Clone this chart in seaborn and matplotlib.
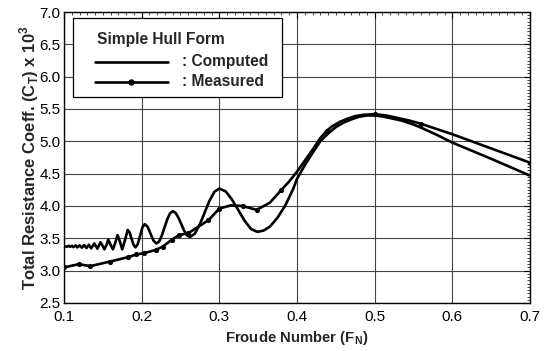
import matplotlib
matplotlib.use("Agg")
import matplotlib.pyplot as plt
from matplotlib.lines import Line2D
from matplotlib.patches import Rectangle
from matplotlib.ticker import MultipleLocator, FormatStrFormatter
import seaborn as sns
import pandas as pd

# ---- data ----
computed_fn = [0.100, 0.104, 0.106, 0.108, 0.110, 0.112, 0.115, 0.117, 0.120, 0.123,
               0.126, 0.129, 0.132, 0.135, 0.139, 0.143, 0.147, 0.1495, 0.152, 0.1545,
               0.157, 0.160, 0.163, 0.166, 0.169, 0.172, 0.175, 0.1785, 0.182, 0.1845,
               0.187, 0.1895, 0.192, 0.195, 0.198, 0.201, 0.204, 0.2078, 0.2115, 0.2153,
               0.219, 0.2225, 0.226, 0.2295, 0.233, 0.2365, 0.240, 0.2437, 0.2473, 0.251,
               0.2547, 0.2583, 0.262, 0.2683, 0.2747, 0.281, 0.2873, 0.2937, 0.300, 0.3082,
               0.3163, 0.3245, 0.3327, 0.3408, 0.349, 0.357, 0.365, 0.375, 0.385, 0.395,
               0.400, 0.410, 0.420, 0.430, 0.440, 0.450, 0.460, 0.470, 0.480, 0.490,
               0.500, 0.510, 0.520, 0.535, 0.550, 0.560, 0.580, 0.600, 0.650, 0.700]
computed_ct = [3.38, 3.37, 3.385, 3.37, 3.385, 3.365, 3.39, 3.36, 3.39, 3.355,
               3.395, 3.35, 3.40, 3.345, 3.42, 3.34, 3.44, 3.39, 3.33, 3.39,
               3.48, 3.40, 3.33, 3.43, 3.55, 3.45, 3.33, 3.47, 3.63, 3.59,
               3.495, 3.40, 3.36, 3.41, 3.54, 3.67, 3.72, 3.676, 3.57, 3.464,
               3.42, 3.45, 3.545, 3.67, 3.795, 3.885, 3.92, 3.893, 3.82, 3.72,
               3.62, 3.547, 3.52, 3.57, 3.71, 3.895, 4.08, 4.22, 4.27, 4.225,
               4.10, 3.935, 3.77, 3.645, 3.60, 3.62, 3.68, 3.82, 4.01, 4.26,
               4.42, 4.63, 4.82, 5.00, 5.12, 5.22, 5.29, 5.34, 5.38, 5.40,
               5.40, 5.385, 5.36, 5.32, 5.26, 5.21, 5.10, 4.98, 4.73, 4.47]

measured_fn = [0.100, 0.119, 0.134, 0.159, 0.183, 0.193, 0.203, 0.218, 0.227, 0.239,
               0.248, 0.260, 0.286, 0.300, 0.315, 0.330, 0.348, 0.365, 0.380, 0.390,
               0.400, 0.410, 0.420, 0.430, 0.438, 0.445, 0.455, 0.465, 0.475, 0.485,
               0.500, 0.515, 0.530, 0.545, 0.560, 0.600, 0.650, 0.700]
measured_ct = [3.05, 3.10, 3.07, 3.14, 3.21, 3.25, 3.27, 3.32, 3.37, 3.48,
               3.55, 3.58, 3.78, 3.96, 4.01, 4.00, 3.94, 4.05, 4.25, 4.38,
               4.53, 4.70, 4.87, 5.05, 5.16, 5.23, 5.30, 5.35, 5.39, 5.41,
               5.42, 5.40, 5.36, 5.32, 5.27, 5.11, 4.89, 4.67]
measured_has_marker = [1, 1, 1, 1, 1, 1, 1, 1, 1, 1,
                       1, 1, 1, 1, 0, 1, 1, 0, 1, 0,
                       0, 0, 0, 0, 1, 0, 0, 0, 0, 0,
                       1, 0, 0, 0, 1, 0, 0, 1]

x_ticks = [0.1, 0.2, 0.3, 0.4, 0.5, 0.6, 0.7]
y_ticks = [2.5, 3.0, 3.5, 4.0, 4.5, 5.0, 5.5, 6.0, 6.5, 7.0]

legend_title = "Simple Hull Form"
series_labels = [": Computed", ": Measured"]

# ---- style ----
sns.set_style("white")
plt.rcParams["font.family"] = ["Liberation Sans", "DejaVu Sans"]
plt.rcParams["mathtext.fontset"] = "custom"
plt.rcParams["mathtext.rm"] = "Liberation Sans"
plt.rcParams["mathtext.bf"] = "Liberation Sans:bold"

comp = pd.DataFrame({"Fn": computed_fn, "Ct": computed_ct})
meas = pd.DataFrame({"Fn": measured_fn, "Ct": measured_ct, "mk": measured_has_marker})

fig = plt.figure(figsize=(5.53, 3.51), dpi=100)
ax = fig.add_axes([0.1157, 0.1368, 0.9584 - 0.1157, 0.9658 - 0.1368])

LW = 1.9
sns.lineplot(data=comp, x="Fn", y="Ct", ax=ax, color="black", lw=LW,
             sort=False, estimator=None, legend=False)
sns.lineplot(data=meas, x="Fn", y="Ct", ax=ax, color="black", lw=LW,
             sort=False, estimator=None, legend=False)
sns.scatterplot(data=meas[meas["mk"] == 1], x="Fn", y="Ct", ax=ax, color="black",
                s=14, edgecolor="black", linewidth=0, legend=False, zorder=5)

ax.set_xlim(0.1, 0.7)
ax.set_ylim(2.5, 7.0)
ax.set_xticks(x_ticks)
ax.set_yticks(y_ticks)
ax.xaxis.set_major_formatter(FormatStrFormatter("%.1f"))
ax.yaxis.set_major_formatter(FormatStrFormatter("%.1f"))
ax.xaxis.set_minor_locator(MultipleLocator(0.01))
ax.yaxis.set_minor_locator(MultipleLocator(0.05))
ax.tick_params(axis="both", which="major", direction="in", length=4, width=0.8,
               labelsize=11, colors="black", top=True, right=True)
ax.tick_params(axis="x", which="major", pad=5)
ax.tick_params(axis="y", which="major", pad=2.5)
ax.tick_params(axis="both", which="minor", direction="in", length=2, width=0.6,
               top=True, right=True)
ax.grid(True, which="major", color="#444444", lw=0.8)
for s in ax.spines.values():
    s.set_color("black")
    s.set_linewidth(1.0)

ax.set_xlabel("Froude Number (F$_\\mathbf{N}$)", fontsize=10.7, fontweight="bold", labelpad=4)
ax.set_ylabel("Total Resistance Coeff. (C$_\\mathbf{T}$) x 10$^\\mathbf{3}$",
              fontsize=12, fontweight="bold", labelpad=-1)

# ---- legend box drawn in axes coordinates ----
T = ax.transAxes
ax.add_patch(Rectangle((0.020, 0.709), 0.447, 0.269, transform=T, facecolor="white",
                       edgecolor="black", lw=0.9, zorder=6))
ax.text(0.070, 0.905, legend_title, transform=T, fontsize=11.2, fontweight="bold",
        ha="left", va="center", zorder=7)
for i, (lab, yy) in enumerate(zip(series_labels, [0.829, 0.760])):
    ax.add_line(Line2D([0.0665, 0.223], [yy, yy], transform=T, color="black",
                       lw=LW, zorder=7))
    if i == 1:
        ax.add_line(Line2D([0.144], [yy], transform=T, color="black", marker="o",
                           markersize=3.6, lw=0, zorder=8))
    ax.text(0.2526, yy, lab, transform=T, fontsize=11.2, fontweight="bold",
            ha="left", va="center", zorder=7)

fig.savefig("out.png", dpi=100)
